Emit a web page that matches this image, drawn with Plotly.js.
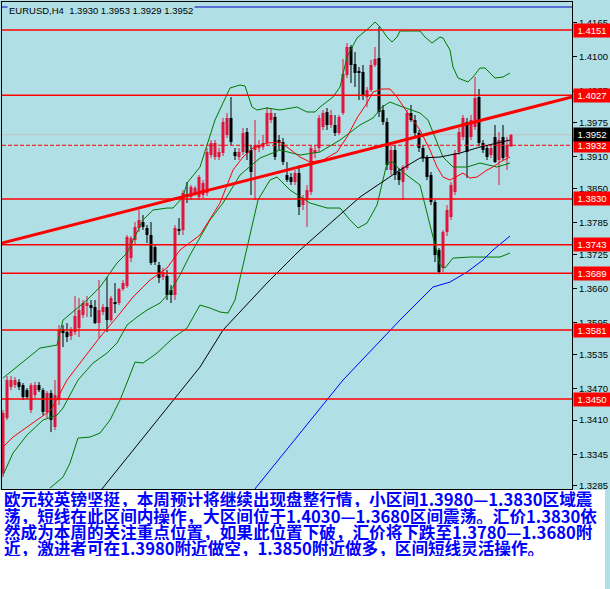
<!DOCTYPE html>
<html><head><meta charset="utf-8">
<script src="https://cdn.plot.ly/plotly-3.0.1.min.js"></script>
<style>html,body{margin:0;padding:0;background:#B0E0E6;}#chart{width:610px;height:589px;}</style>
</head><body><div id="chart"></div>
<script>
// ---- candle data (EURUSD H4) ----
const candleOpen = [1.33093,1.34138,1.34727,1.34765,1.34822,1.34765,1.34670,1.34290,1.34575,1.34765,
1.34670,1.34252,1.34613,1.33967,1.34480,1.35829,1.35772,1.35696,1.35772,1.35848,
1.36095,1.36266,1.36285,1.36247,1.35943,1.36152,1.36247,1.36000,1.36342,1.36323,
1.36589,1.36646,1.37178,1.37520,1.37748,1.37862,1.37748,1.37615,1.37387,1.37045,
1.36817,1.36836,1.36570,1.36475,1.37729,1.37710,1.38394,1.38337,1.38413,1.38337,
1.38375,1.38413,1.39135,1.39097,1.39097,1.39173,1.39515,1.39838,1.39192,1.39097,
1.39192,1.39572,1.39230,1.39230,1.39268,1.39287,1.39363,1.39800,1.39857,1.39420,
1.39382,1.38755,1.38717,1.38622,1.38793,1.38185,1.38280,1.38432,1.39173,1.39268,
1.39667,1.39952,1.39705,1.39705,1.39553,1.39933,1.40655,1.41187,1.40864,1.40731,
1.40712,1.40237,1.40370,1.40845,1.40978,1.39990,1.39762,1.38850,1.39230,1.38812,
1.38622,1.38888,1.39933,1.39800,1.39553,1.39268,1.39097,1.38755,1.38242,1.37330,
1.36988,1.37672,1.37957,1.38432,1.39192,1.39477,1.39762,1.39477,1.39667,1.40237,
1.39363,1.39268,1.39135,1.39477,1.39040,1.39477,1.39097,1.39300];
const candleHigh = [1.34290,1.34936,1.34936,1.34917,1.34879,1.34803,1.34708,1.34803,1.34822,1.34822,
1.34708,1.34651,1.34670,1.34860,1.35905,1.35905,1.35943,1.35867,1.36456,1.36418,
1.36380,1.36456,1.36380,1.36380,1.36760,1.36304,1.36817,1.36456,1.36703,1.36608,
1.36760,1.37615,1.37596,1.37862,1.38090,1.37995,1.37805,1.37862,1.37425,1.37102,
1.36988,1.36950,1.36665,1.37805,1.37938,1.38470,1.38622,1.38565,1.38546,1.38755,
1.38660,1.39268,1.39420,1.39420,1.39268,1.39838,1.39933,1.40237,1.39268,1.39268,
1.39648,1.39648,1.39325,1.39800,1.39420,1.39515,1.40047,1.40028,1.39933,1.39515,
1.39458,1.39002,1.38793,1.38850,1.38945,1.38375,1.38565,1.39325,1.39325,1.39895,
1.39990,1.40028,1.39990,1.39895,1.39895,1.40959,1.41263,1.41225,1.41092,1.40807,
1.40845,1.40427,1.40940,1.41187,1.41567,1.40085,1.39838,1.39325,1.39325,1.38888,
1.38945,1.39990,1.40085,1.39895,1.39610,1.39325,1.39135,1.38812,1.38280,1.37368,
1.37710,1.38185,1.38622,1.39230,1.39648,1.39895,1.39838,1.39895,1.40617,1.40389,
1.39420,1.39325,1.39325,1.39705,1.39572,1.39705,1.39477,1.39530];
const candleLow = [1.33017,1.34100,1.34670,1.34708,1.34670,1.34480,1.34499,1.34233,1.34518,1.34632,
1.34195,1.34138,1.33871,1.33910,1.34385,1.35487,1.35582,1.35620,1.35715,1.35677,
1.36038,1.36057,1.36057,1.35924,1.35658,1.36095,1.35772,1.35962,1.36133,1.36285,
1.36551,1.36610,1.37102,1.37425,1.37672,1.37710,1.37463,1.37045,1.37045,1.36703,
1.36760,1.36380,1.36323,1.36380,1.37615,1.37615,1.38223,1.38280,1.38356,1.38280,
1.38318,1.38356,1.39078,1.39040,1.39040,1.39116,1.39458,1.39325,1.39040,1.39040,
1.39135,1.39040,1.38375,1.38280,1.39192,1.39230,1.39325,1.39743,1.39040,1.39230,
1.38945,1.38622,1.38565,1.38565,1.37995,1.38090,1.37767,1.38375,1.39078,1.39192,
1.39610,1.39610,1.39648,1.39496,1.39515,1.39895,1.40598,1.40503,1.40427,1.40180,
1.40180,1.40047,1.40332,1.40807,1.39857,1.39705,1.38850,1.38755,1.38660,1.38565,
1.38280,1.38850,1.39762,1.39496,1.39192,1.39002,1.38660,1.38185,1.37102,1.36874,
1.36912,1.37596,1.37900,1.38375,1.39135,1.39420,1.38698,1.39420,1.39610,1.39306,
1.39173,1.39040,1.39078,1.38983,1.38565,1.39040,1.38850,1.39290];
const candleClose = [1.34233,1.34860,1.34860,1.34860,1.34727,1.34537,1.34537,1.34765,1.34765,1.34670,
1.34252,1.34613,1.34100,1.34575,1.35810,1.35753,1.35677,1.35829,1.36076,1.36190,
1.36323,1.36323,1.36228,1.35943,1.36190,1.36247,1.36000,1.36418,1.36304,1.36589,
1.36703,1.37577,1.37558,1.37767,1.37900,1.37767,1.37615,1.37083,1.37102,1.36798,
1.36912,1.36475,1.36475,1.37748,1.37691,1.38413,1.38356,1.38527,1.38508,1.38717,
1.38603,1.39192,1.39363,1.39363,1.39192,1.39762,1.39838,1.39382,1.39116,1.39192,
1.39553,1.39173,1.38812,1.39325,1.39325,1.39363,1.39933,1.39933,1.39097,1.39363,
1.39002,1.38660,1.38622,1.38793,1.38147,1.38318,1.38470,1.39268,1.39230,1.39838,
1.39933,1.39705,1.39895,1.39553,1.39857,1.40674,1.41187,1.40845,1.40693,1.40693,
1.40275,1.40370,1.40845,1.40959,1.39952,1.39762,1.38945,1.39230,1.38755,1.38660,
1.38907,1.39933,1.39800,1.39553,1.39268,1.39078,1.38717,1.38242,1.37235,1.36912,
1.37672,1.38090,1.38565,1.39173,1.39572,1.39838,1.39192,1.39800,1.40218,1.39363,
1.39230,1.39097,1.39268,1.39002,1.39420,1.39078,1.39325,1.39520];

// ---- indicator lines (bar index, price) ----
const bbUpperX = [0,9.25,13.5,15,21,24.25,28.5,31,35,37.5,41,42.5,45,46,49.25,53,56.75,59.25,60.5,62.25,63.5,66,69.25,73.5,76,78,79.25,81,82.5,84.25,86,88.5,90,91.75,93,94.25,96,97.25,98.5,99.25,104.25,105.5,107.25,109.25,110,111.75,112.5,113.75,116.25,117.5,119.25,120.5,121.75,123,125,126.75];
const bbUpperY = [1.34898,1.35468,1.35525,1.36000,1.36380,1.36627,1.37083,1.37273,1.37900,1.38090,1.38128,1.38128,1.38337,1.38603,1.38907,1.39800,1.40408,1.40465,1.40446,1.40047,1.39990,1.40028,1.39990,1.40047,1.39952,1.39952,1.40047,1.40142,1.40237,1.40427,1.40997,1.41358,1.41453,1.41567,1.41662,1.41567,1.41377,1.41282,1.41377,1.41491,1.41491,1.41377,1.41263,1.41377,1.41358,1.41130,1.40807,1.40598,1.40522,1.40617,1.40788,1.40788,1.40693,1.40598,1.40617,1.40693];
const bbLowerX = [11.75,15,16.75,18.75,21.75,24.25,26.75,29.25,31.25,33,35,38.5,42.5,46,49.25,51.75,54.25,56.25,58,59.75,61,63.75,66.75,68.5,71.75,76.75,81,84.25,86.75,88.75,91,93.5,96,97.5,99.25,104.25,106.75,109.25,110.5,112.5,116.75,124.25,126.75];
const bbLowerY = [1.32808,1.33017,1.33283,1.33758,1.33777,1.33853,1.34100,1.34480,1.34860,1.35202,1.35183,1.35373,1.35658,1.35848,1.36285,1.36228,1.36152,1.36133,1.36380,1.36950,1.37330,1.38280,1.38660,1.38717,1.38470,1.38223,1.38128,1.38128,1.37900,1.37748,1.37843,1.38185,1.38983,1.39002,1.38850,1.38565,1.37805,1.37045,1.36988,1.37178,1.37197,1.37197,1.37273];
const maRedX = [0,2.5,6,8.5,12,16,24.25,28.5,32.5,36.75,41,44.25,49.25,54.25,57.5,60,62.5,66,69.25,71,74.25,76.75,80,83.5,86,88.5,91,92.5,94.75,96.75,98.5,101,102.5,104.25,106.75,108.5,110,111.75,115,116.75,118.5,121,122.5,124.25,126.75];
const maRedY = [1.33587,1.33777,1.33967,1.34100,1.34290,1.34860,1.35677,1.36057,1.36437,1.36760,1.36988,1.37330,1.37615,1.38223,1.38850,1.39097,1.39268,1.39363,1.39382,1.39287,1.39097,1.39002,1.39040,1.39192,1.39477,1.39838,1.40123,1.40332,1.40389,1.40389,1.40237,1.39952,1.39800,1.39610,1.39230,1.38907,1.38717,1.38660,1.38793,1.38698,1.38717,1.38850,1.38907,1.39002,1.39097];
const maGreenX = [0,2.5,6,10,13.5,15,18.75,22.5,26,28.5,31,33.5,36,39.25,41.75,44.25,46.75,49.25,51.75,55,59.25,64.25,69.25,74.25,79.25,84.25,89.25,92.5,94.75,96.75,99.25,104.25,106.25,110,112.5,116,119.25,123.5,126.75];
const maGreenY = [1.33055,1.33473,1.33815,1.34100,1.34195,1.34328,1.34860,1.35183,1.35373,1.35563,1.35905,1.36057,1.36190,1.36323,1.36532,1.36855,1.37235,1.37558,1.37900,1.38223,1.38755,1.39078,1.39230,1.39135,1.39192,1.39420,1.39705,1.39838,1.40047,1.40142,1.40066,1.39933,1.39800,1.39097,1.38907,1.38907,1.38983,1.38907,1.38983];
const maBlackX = [23.5,46.75,49.25,55,66,74.25,89.25,99.25,104.25,109.25,114.25,119.25,124.25,126.75];
const maBlackY = [1.32675,1.34860,1.35107,1.35810,1.36703,1.37330,1.38337,1.38850,1.39078,1.39097,1.39173,1.39287,1.39382,1.39420];
const maBlueX = [62,85,99.25,107.5,111.75,116,120,122.5,126.75];
const maBlueY = [1.32700,1.34860,1.36000,1.36627,1.36722,1.36912,1.37140,1.37330,1.37596];

// ---- drawn objects ----
const levelValues = [1.4151,1.4027,1.3830,1.3743,1.3689,1.3581,1.3450];
const dashedLevel = 1.3932;
const bidLevel = 1.3952;
const topBlueLevel = 1.41947;
const trendIdx = [-0.25,142.25];
const trendPrice = [1.37463,1.40237];
const tickVals = [1.4165,1.4100,1.4035,1.3975,1.3910,1.3850,1.3785,1.3725,1.3660,1.3595,1.3535,1.3470,1.3410,1.3345,1.3285];
const titleText = 'EURUSD,H4  1.3930 1.3953 1.3929 1.3952';
const noteLines = [
 '欧元较英镑坚挺，本周预计将继续出现盘整行情，小区间1.3980—1.3830区域震',
 '荡，短线在此区间内操作，大区间位于1.4030—1.3680区间震荡。汇价1.3830依',
 '然成为本周的关注重点位置，如果此位置下破，汇价将下跌至1.3780—1.3680附',
 '近，激进者可在1.3980附近做空，1.3850附近做多，区间短线灵活操作。'
];

// ---- build ----
const BG = '#B0E0E6', UPC = '#E0143C', DNC = '#000000';
const SANS = '"Liberation Sans",Arial,sans-serif';
const idx = candleOpen.map((_, i) => i);
const up = idx.filter(i => candleClose[i] >= candleOpen[i]);
const dn = idx.filter(i => candleClose[i] < candleOpen[i]);
const minBody = 0.0001;
function bodies(list, color){
  return {type:'bar', x:list, base:list.map(i=>Math.min(candleOpen[i],candleClose[i])),
    y:list.map(i=>Math.max(Math.abs(candleClose[i]-candleOpen[i]),minBody)),
    width:0.75, marker:{color:color, line:{width:0}}, hoverinfo:'skip', showlegend:false};
}
function wicks(list, color){
  const x=[], y=[];
  list.forEach(i=>{x.push(i,i,null); y.push(candleLow[i],candleHigh[i],null);});
  return {type:'scatter', mode:'lines', x:x, y:y, line:{color:color,width:1}, hoverinfo:'skip', showlegend:false};
}
function line(x, y, color, w){
  return {type:'scatter', mode:'lines', x:x, y:y, line:{color:color,width:w||1}, hoverinfo:'skip', showlegend:false};
}
const traces = [
  wicks(up, UPC), wicks(dn, DNC), bodies(up, UPC), bodies(dn, DNC),
  line(bbUpperX, bbUpperY, '#007800'), line(bbLowerX, bbLowerY, '#007800'),
  line(maGreenX, maGreenY, '#007800'), line(maRedX, maRedY, '#FF0000'),
  line(maBlackX, maBlackY, '#000000'), line(maBlueX, maBlueY, '#0000FF'),
  line(trendIdx, trendPrice, '#FF0000', 3)
];

const shapes = [];
levelValues.forEach(v => shapes.push({type:'line', xref:'paper', x0:0, x1:1, yref:'y', y0:v, y1:v, line:{color:'#FF0000', width:1.5}, layer:'above'}));
shapes.push({type:'line', xref:'paper', x0:0, x1:1, yref:'y', y0:dashedLevel, y1:dashedLevel, line:{color:'#FF0000', width:1, dash:'4px,2px'}, layer:'above'});
shapes.push({type:'line', xref:'paper', x0:0, x1:1, yref:'y', y0:bidLevel, y1:bidLevel, line:{color:'#C0C0C0', width:1}, layer:'below'});
shapes.push({type:'line', xref:'paper', x0:0, x1:1, yref:'y', y0:topBlueLevel, y1:topBlueLevel, line:{color:'#0000C0', width:1}, layer:'above'});
// white note panel below the chart
shapes.push({type:'rect', xref:'paper', yref:'paper', x0:-2/570, x1:603/570, y0:-100/487, y1:-1/487, fillcolor:'#FFFFFF', line:{width:0}, layer:'above'});

const annotations = [];
annotations.push({xref:'paper', yref:'paper', x:5/570, y:1-8.5/487, xanchor:'left', yanchor:'middle', text:titleText, showarrow:false, bgcolor:BG, borderpad:1, font:{family:SANS, size:9.5, color:'#000'}});
levelValues.concat([dashedLevel]).forEach(v => annotations.push({xref:'paper', yref:'y', x:1, xshift:1, y:v, xanchor:'left', yanchor:'middle', text:v.toFixed(4), showarrow:false, bgcolor:'#FF0000', width:34, height:11, borderpad:1, font:{family:SANS, size:9.5, color:'#FFFFFF'}}));
annotations.push({xref:'paper', yref:'y', x:1, xshift:1, y:bidLevel, xanchor:'left', yanchor:'middle', text:bidLevel.toFixed(4), showarrow:false, bgcolor:'#000000', width:34, height:11, borderpad:1, font:{family:SANS, size:9.5, color:'#FFFFFF'}});
const lineY = [499, 515.5, 531.5, 547.5];
noteLines.forEach((t, k) => annotations.push({xref:'paper', yref:'paper', x:0, y:-(lineY[k]-489)/487, xanchor:'left', yanchor:'middle', height:16, text:t, showarrow:false, font:{family:'"Noto Sans CJK SC",sans-serif', size:16.6, color:'#0000FF', weight:'bold'}}));

const layout = {
  width:610, height:589, margin:{l:2, r:38, t:2, b:100, pad:0},
  paper_bgcolor:BG, plot_bgcolor:BG, barmode:'overlay', showlegend:false,
  xaxis:{range:[-0.25,142.25], showgrid:false, zeroline:false, showticklabels:false, ticks:'', showline:true, mirror:true, linecolor:'#000', linewidth:1, fixedrange:true},
  yaxis:{range:[1.327904,1.420419], side:'right', showgrid:false, zeroline:false, tickvals:tickVals, ticktext:tickVals.map(v=>v.toFixed(4)), ticks:'outside', ticklen:4, tickcolor:'#000', tickfont:{family:SANS, size:9.5, color:'#000'}, showline:true, mirror:true, linecolor:'#000', linewidth:1, fixedrange:true},
  shapes:shapes, annotations:annotations
};
Plotly.newPlot('chart', traces, layout, {staticPlot:true, displayModeBar:false});
</script></body></html>
